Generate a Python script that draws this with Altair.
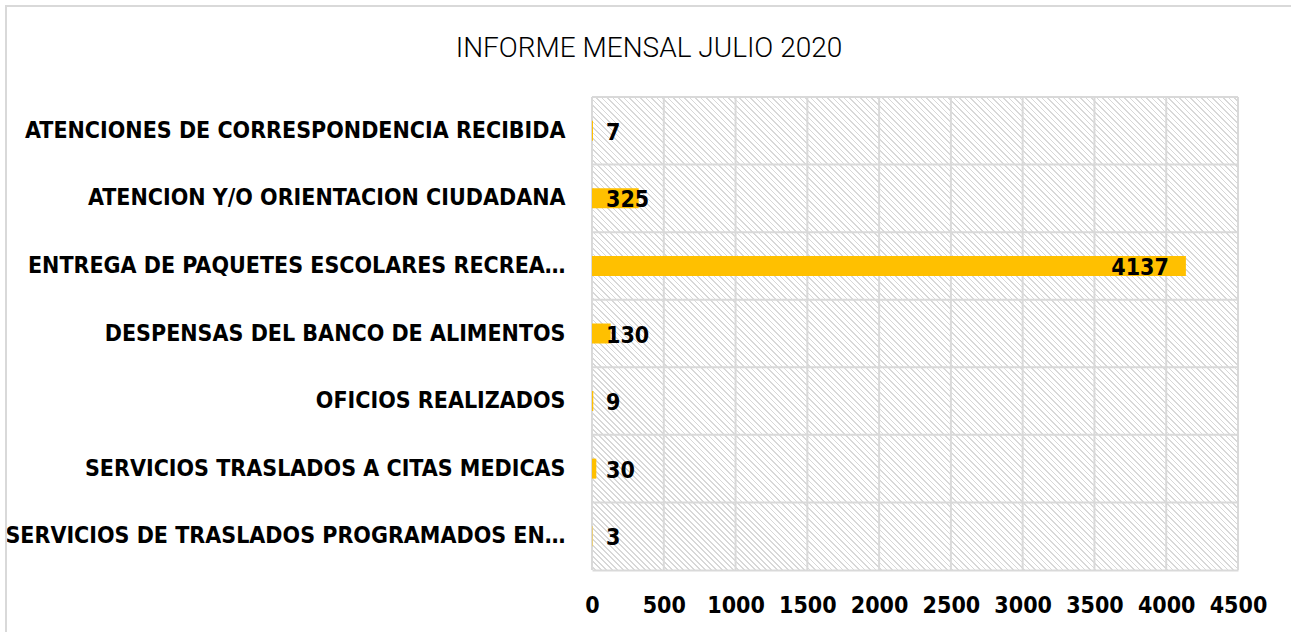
import altair as alt
import pandas as pd

categories = [
    "ATENCIONES DE CORRESPONDENCIA RECIBIDA",
    "ATENCION Y/O ORIENTACION CIUDADANA",
    "ENTREGA DE PAQUETES ESCOLARES RECREA…",
    "DESPENSAS DEL BANCO DE ALIMENTOS",
    "OFICIOS REALIZADOS",
    "SERVICIOS TRASLADOS A CITAS MEDICAS",
    "SERVICIOS DE TRASLADOS PROGRAMADOS EN…",
]
values = [7, 325, 4137, 130, 9, 30, 3]
x_ticks = [0, 500, 1000, 1500, 2000, 2500, 3000, 3500, 4000, 4500]
title_text = "INFORME MENSAL JULIO 2020"

df = pd.DataFrame({"cat": categories, "v": values})
ticks_df = pd.DataFrame({"t": x_ticks})

W, H = 646, 473
LEFT, TOP = 592, 97
FONT = "DejaVu Sans Condensed, Roboto, sans-serif"
TFONT = "Roboto, sans-serif"
FS = 23
GRID = "#d9d9d9"

# hatch pattern via a striped linear gradient
n = 235
stops = []
for i in range(n):
    a = round(i / n, 6)
    b = round((i + 0.3) / n, 6)
    c = round((i + 1) / n, 6)
    stops += [
        alt.GradientStop(offset=a, color="#d8d8d8"),
        alt.GradientStop(offset=b, color="#d8d8d8"),
        alt.GradientStop(offset=b, color="#ffffff"),
        alt.GradientStop(offset=min(c, 1.0), color="#ffffff"),
    ]
hatch = alt.LinearGradient(gradient="linear", stops=stops, x1=0, y1=1, x2=1, y2=0)

one = alt.Data(values=[{}])

xscale = alt.Scale(domain=[0, 4500], nice=False)
yscale = alt.Scale(paddingInner=0, paddingOuter=0)

bg = alt.Chart(one).mark_rect(clip=True, fill=hatch).encode(
    x=alt.value(0), x2=alt.value(W), y=alt.value(0), y2=alt.value(W)
)

vgrid = alt.Chart(ticks_df).mark_rule(color=GRID, strokeWidth=2).encode(
    x=alt.X("t:Q", scale=xscale)
)

hgrid = alt.Chart(df).mark_rule(color=GRID, strokeWidth=2).encode(
    y=alt.Y("cat:N", sort=None, scale=yscale, bandPosition=0)
)

bars = alt.Chart(df).mark_bar(color="#FFC000", size=20).encode(
    y=alt.Y(
        "cat:N",
        sort=None,
        scale=yscale,
        title=None,
        axis=alt.Axis(
            labelFont=FONT,
            labelFontWeight="bold",
            labelFontSize=FS,
            labelColor="#000000",
            labelPadding=27,
            labelLimit=0,
            ticks=False,
            domain=False,
            grid=False,
        ),
    ),
    x=alt.X(
        "v:Q",
        scale=xscale,
        title=None,
        axis=alt.Axis(
            values=x_ticks,
            format="d",
            labelOverlap=False,
            labelFlush=False,
            labelFont=FONT,
            labelFontWeight="bold",
            labelFontSize=FS,
            labelColor="#000000",
            labelPadding=24,
            ticks=False,
            grid=False,
            domain=True,
            domainColor=GRID,
            domainWidth=2,
            zindex=1,
        ),
    ),
)

lab_small = alt.Chart(df).transform_filter("datum.v < 1000").mark_text(
    font=FONT, fontWeight="bold", fontSize=FS, color="#000000",
    align="left", baseline="middle", dx=14, dy=2,
).encode(
    y=alt.Y("cat:N", sort=None, scale=yscale),
    x=alt.value(0),
    text="v:Q",
)

lab_big = alt.Chart(df).transform_filter("datum.v >= 1000").mark_text(
    font=FONT, fontWeight="bold", fontSize=FS, color="#000000",
    align="right", baseline="middle", dx=-17, dy=2,
).encode(
    y=alt.Y("cat:N", sort=None, scale=yscale),
    x=alt.X("v:Q", scale=xscale),
    text="v:Q",
)

title = alt.Chart(one).mark_text(
    font=TFONT, fontSize=28, fontWeight=300, color="#000000", align="center",
    baseline="middle",
).encode(x=alt.value(649 - LEFT), y=alt.value(49 - TOP), text=alt.value(title_text))

border = alt.Chart(one).mark_rect(
    fill="transparent", stroke=GRID, strokeWidth=2
).encode(
    x=alt.value(6 - LEFT), y=alt.value(6 - TOP),
    x2=alt.value(1320 - LEFT), y2=alt.value(660 - TOP),
)

chart = alt.layer(border, bg, vgrid, hgrid, bars, lab_small, lab_big, title).properties(
    width=W,
    height=H,
    autosize="none",
    padding={"left": LEFT, "top": TOP, "right": 1291 - LEFT - W, "bottom": 632 - TOP - H},
    background="#ffffff",
).configure_view(stroke=None)

chart.save("out.html", embed_options={"renderer": "svg", "actions": False})
